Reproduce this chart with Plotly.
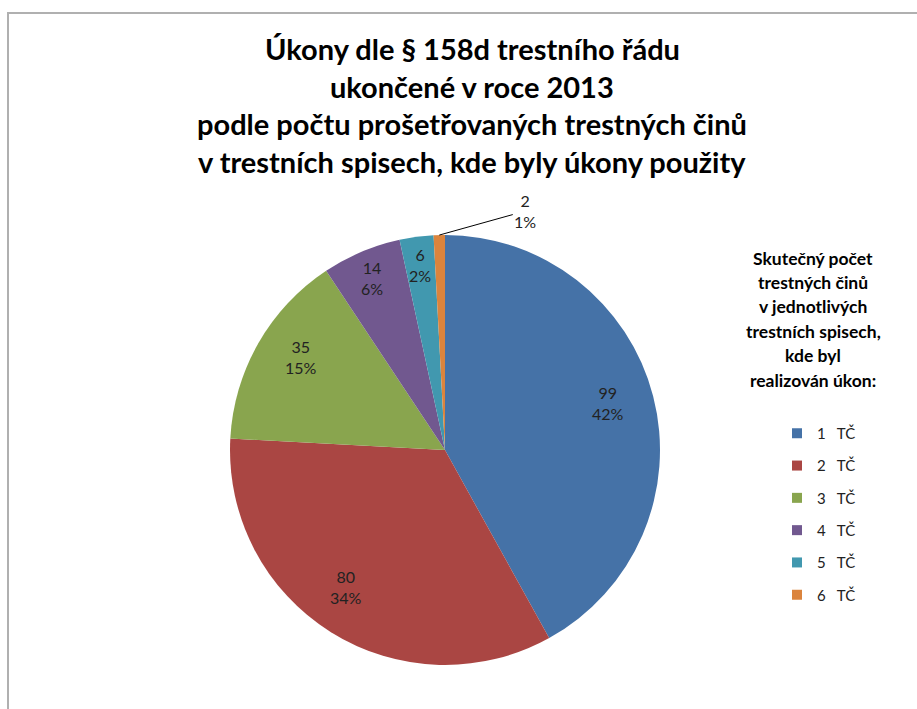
import math
import plotly.graph_objects as go

categories = ["1", "2", "3", "4", "5", "6"]
legend_labels = ["1\u00a0\u00a0\u00a0TČ", "2\u00a0\u00a0\u00a0TČ", "3\u00a0\u00a0\u00a0TČ",
                 "4\u00a0\u00a0\u00a0TČ", "5\u00a0\u00a0\u00a0TČ", "6\u00a0\u00a0\u00a0TČ"]
values = [99, 80, 35, 14, 6, 2]
percents = ["42%", "34%", "15%", "6%", "2%", "1%"]
colors = ["#4572A7", "#AA4643", "#89A54E", "#71588F", "#4198AF", "#DB843D"]

title_lines = ["Úkony dle § 158d trestního řádu",
               "ukončené v roce 2013",
               "podle počtu prošetřovaných trestných činů",
               "v trestních spisech, kde byly úkony použity"]
legend_title_lines = ["Skutečný počet", "trestných činů", "v jednotlivých",
                      "trestních spisech,", "kde byl", "realizován úkon:"]

W, H = 917, 709


def px(x):
    return x / W


def py(y):
    return 1 - y / H


cx, cy, R = 445, 450, 215  # pie centre / radius in window pixels

fig = go.Figure()
fig.add_trace(go.Pie(
    labels=categories, values=values, sort=False, direction="clockwise",
    rotation=0, marker=dict(colors=colors, line=dict(width=0)),
    textinfo="none", hoverinfo="label+value+percent", showlegend=False,
    domain=dict(x=[px(cx - R), px(cx + R)], y=[py(cy + R), py(cy - R)]),
))

for lab, col in zip(legend_labels, colors):
    fig.add_trace(go.Scatter(x=[None], y=[None], mode="markers", name=lab,
                             legendgroup=lab,
                             marker=dict(symbol="square", size=10, color=col)))

lab_font = dict(family="Lato", size=16, color="#222")
annotations = []
total = sum(values)
cum = 0
for v, p in zip(values, percents):
    f = (cum + v / 2) / total
    cum += v
    th = math.radians(90 - 360 * f)
    txt = f"{v}<br>{p}"
    if v / total < 0.02:
        ex, ey = cx + R * math.cos(th), cy - R * math.sin(th)
        annotations.append(dict(x=px(ex), y=py(ey), xref="paper", yref="paper",
                                text=txt, showarrow=True, arrowhead=0, arrowwidth=1,
                                arrowcolor="#000", ax=86, ay=-24, font=lab_font))
    else:
        k = 0.87
        lx, ly = cx + R * k * math.cos(th), cy - R * k * math.sin(th)
        annotations.append(dict(x=px(lx), y=py(ly), xref="paper", yref="paper",
                                text=txt, showarrow=False, font=lab_font))

for j, t in enumerate(title_lines):
    annotations.append(dict(x=px(472), y=py(48 + 38 * j), xref="paper", yref="paper",
                            text=f"<b>{t}</b>", showarrow=False, xanchor="center", yanchor="middle",
                            font=dict(family="Lato", size=29, color="#000")))
for j, t in enumerate(legend_title_lines):
    annotations.append(dict(x=px(813), y=py(258 + 24.4 * j), xref="paper", yref="paper",
                            text=f"<b>{t}</b>", showarrow=False, xanchor="center", yanchor="middle",
                            font=dict(family="Lato", size=17.5, color="#000")))

fig.update_layout(
    width=W, height=H, margin=dict(l=0, r=0, t=0, b=0),
    paper_bgcolor="white", plot_bgcolor="white",
    xaxis=dict(visible=False), yaxis=dict(visible=False),
    annotations=annotations,
    showlegend=True,
    legend=dict(x=px(777), y=py(417), xanchor="left", yanchor="top",
                tracegroupgap=9.8, font=dict(family="Lato", size=15, color="#222"),
                bgcolor="rgba(0,0,0,0)"),
    shapes=[dict(type="rect", xref="paper", yref="paper", x0=px(8), x1=1.05,
                 y0=-0.05, y1=py(13), line=dict(color="#b0b0b0", width=2))],
)

fig.write_html("out.html", config={"displayModeBar": False},
               post_script="document.body.style.margin='0';document.body.style.overflow='hidden';")
